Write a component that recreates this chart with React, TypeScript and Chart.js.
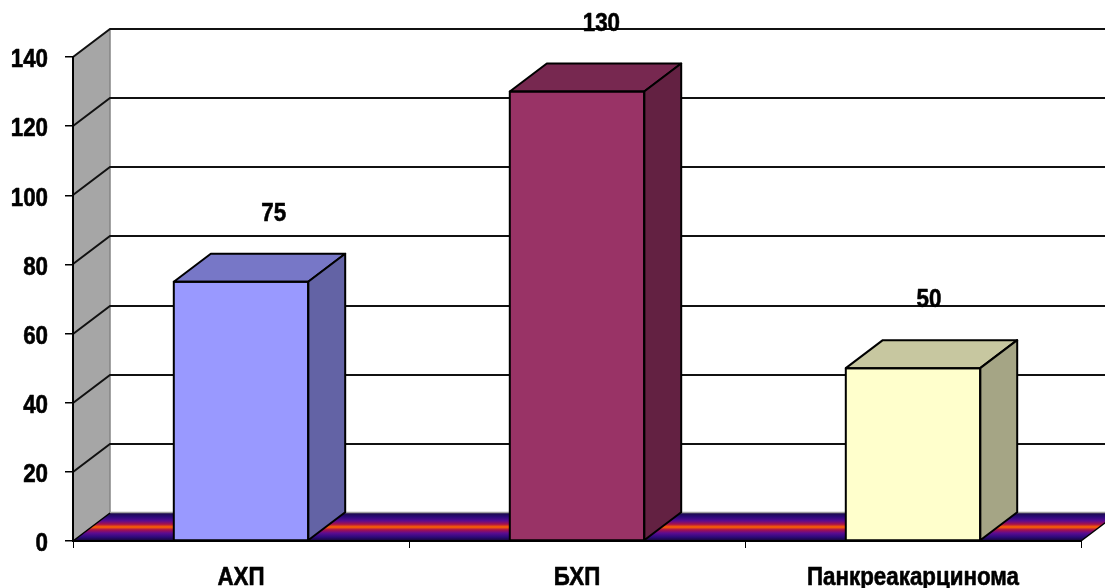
import React, { useEffect, useRef } from "react";
import { Chart, registerables } from "chart.js";

Chart.register(...registerables);

// Chart data
const categories = ["АХП", "БХП", "Панкреакарцинома"];
const values = [75, 130, 50];
const yMin = 0;
const yMax = 140;
const yStep = 20;

// Face colours of each column: front, top, side
const frontColors = ["#9999ff", "#993366", "#ffffcc"];
const topColors = ["#7777c7", "#772850", "#c7c7a0"];
const sideColors = ["#6363a5", "#632142", "#a5a585"];

// Depth of the 3D box (screen offset of the back plane)
const DX = 37;
const DY = -28;

const FONT_FAMILY = '"Liberation Sans", Arial, sans-serif';
const FONT_SIZE = 26;
const NARROW = 0.86; // horizontal squeeze for a narrow bold face

// Draws condensed bold text; y is the visual middle of the capitals
function narrowText(ctx: CanvasRenderingContext2D, text: string, x: number, y: number, align: CanvasTextAlign) {
  ctx.save();
  ctx.font = `bold ${FONT_SIZE}px ${FONT_FAMILY}`;
  ctx.fillStyle = "#000000";
  ctx.strokeStyle = "#000000";
  ctx.lineWidth = 0.6;
  ctx.lineJoin = "round";
  ctx.textAlign = align;
  ctx.textBaseline = "alphabetic";
  ctx.translate(x, y + FONT_SIZE * 0.358);
  ctx.scale(NARROW, 1);
  ctx.fillText(text, 0, 0);
  ctx.strokeText(text, 0, 0);
  ctx.restore();
}

const walls3dPlugin = {
  id: "walls3d",
  beforeDraw(chart: any) {
    const { ctx, chartArea, scales } = chart;
    const y = scales.y;
    const left = chartArea.left;
    const right = chartArea.right;
    const y0 = y.getPixelForValue(yMin);
    const yTop = y.getPixelForValue(yMax);
    const farRight = right + DX + 40;

    ctx.save();
    // back wall
    ctx.fillStyle = "#ffffff";
    ctx.fillRect(left + DX, yTop + DY, farRight - left - DX, y0 - yTop);

    // left side wall
    ctx.beginPath();
    ctx.moveTo(left, y0);
    ctx.lineTo(left, yTop);
    ctx.lineTo(left + DX, yTop + DY);
    ctx.lineTo(left + DX, y0 + DY);
    ctx.closePath();
    ctx.fillStyle = "#a6a6a6";
    ctx.fill();

    // right edge of the side wall
    ctx.strokeStyle = "#858585";
    ctx.lineWidth = 1.5;
    ctx.beginPath();
    ctx.moveTo(left + DX, yTop + DY);
    ctx.lineTo(left + DX, y0 + DY);
    ctx.stroke();

    // gridlines: diagonal across the side wall, then along the back wall
    ctx.strokeStyle = "#111111";
    ctx.lineWidth = 2;
    for (let v = yMin + yStep; v <= yMax; v += yStep) {
      const py = Math.round(y.getPixelForValue(v));
      ctx.beginPath();
      ctx.moveTo(left, py);
      ctx.lineTo(left + DX, py + DY);
      ctx.lineTo(farRight, py + DY);
      ctx.stroke();
    }

    // floor with banded gradient
    const grad = ctx.createLinearGradient(0, y0 + DY, 0, y0);
    grad.addColorStop(0, "#1a0a48");
    grad.addColorStop(0.14, "#2c0a7a");
    grad.addColorStop(0.28, "#5a0c92");
    grad.addColorStop(0.4, "#a8104c");
    grad.addColorStop(0.5, "#ff6400");
    grad.addColorStop(0.6, "#a8104c");
    grad.addColorStop(0.72, "#5a0c92");
    grad.addColorStop(0.86, "#2c0a7a");
    grad.addColorStop(1, "#12062e");
    ctx.beginPath();
    ctx.moveTo(left, y0);
    ctx.lineTo(left + DX, y0 + DY);
    ctx.lineTo(right + DX, y0 + DY);
    ctx.lineTo(right, y0);
    ctx.closePath();
    ctx.fillStyle = grad;
    ctx.fill();

    // back edge of the floor
    ctx.strokeStyle = "#a0a0a0";
    ctx.lineWidth = 1.5;
    ctx.beginPath();
    ctx.moveTo(left + DX, y0 + DY - 0.5);
    ctx.lineTo(farRight, y0 + DY - 0.5);
    ctx.stroke();

    // outlines of the floor ends
    ctx.strokeStyle = "#000000";
    ctx.lineWidth = 1.5;
    ctx.beginPath();
    ctx.moveTo(left, y0);
    ctx.lineTo(left + DX, y0 + DY);
    ctx.moveTo(right, y0);
    ctx.lineTo(right + DX, y0 + DY);
    ctx.stroke();
    ctx.restore();
  },
  afterDatasetsDraw(chart: any) {
    const { ctx, chartArea, scales } = chart;
    const y = scales.y;
    const meta = chart.getDatasetMeta(0);
    ctx.save();
    ctx.lineJoin = "round";
    meta.data.forEach((bar: any, i: number) => {
      const props = bar.getProps(["x", "y", "base", "width"], true);
      const l = props.x - props.width / 2;
      const r = props.x + props.width / 2;
      const t = props.y;
      const b = props.base;
      ctx.lineWidth = 2;
      ctx.strokeStyle = "#000000";
      // top face
      ctx.beginPath();
      ctx.moveTo(l, t);
      ctx.lineTo(l + DX, t + DY);
      ctx.lineTo(r + DX, t + DY);
      ctx.lineTo(r, t);
      ctx.closePath();
      ctx.fillStyle = topColors[i];
      ctx.fill();
      ctx.stroke();
      // side face
      ctx.beginPath();
      ctx.moveTo(r, t);
      ctx.lineTo(r + DX, t + DY);
      ctx.lineTo(r + DX, b + DY);
      ctx.lineTo(r, b);
      ctx.closePath();
      ctx.fillStyle = sideColors[i];
      ctx.fill();
      ctx.stroke();
      // front face outline
      ctx.strokeRect(l, t, r - l, b - t);

      // value label above the column
      const lx = props.x + DX - (props.x - chartArea.left) * 0.025;
      const ly = y.getPixelForValue(values[i]) + DY - 42;
      narrowText(ctx, String(values[i]), lx, ly, "center");
    });
    ctx.restore();
  },
  afterDraw(chart: any) {
    const { ctx, scales } = chart;
    const x = scales.x;
    const y = scales.y;
    // value axis labels
    y.ticks.forEach((tick: any) => {
      narrowText(ctx, String(tick.value), 48, y.getPixelForValue(tick.value) + 1, "right");
    });
    // category labels
    categories.forEach((label, i) => {
      narrowText(ctx, label, x.getPixelForValue(i), 576, "center");
    });
  },
};

export default function App() {
  const canvasRef = useRef<HTMLCanvasElement | null>(null);

  useEffect(() => {
    if (!canvasRef.current) return;
    const chart = new Chart(canvasRef.current, {
      type: "bar",
      data: {
        labels: categories,
        datasets: [
          {
            data: values,
            backgroundColor: frontColors,
            borderWidth: 0,
            barPercentage: 0.4,
            categoryPercentage: 1,
          },
        ],
      },
      options: {
        animation: false,
        responsive: false,
        devicePixelRatio: 1,
        layout: { padding: { top: 57, right: 24, left: 0, bottom: 0 } },
        plugins: {
          legend: { display: false },
          tooltip: { enabled: false },
          title: { display: false },
        },
        scales: {
          x: {
            offset: true,
            afterFit: (scale: any) => {
              scale.height = 47;
            },
            grid: {
              offset: true,
              drawOnChartArea: false,
              drawTicks: true,
              tickLength: 7,
              color: "#000000",
              lineWidth: 1,
            },
            border: { display: true, color: "#000000", width: 2 },
            ticks: { display: false },
          },
          y: {
            min: yMin,
            max: yMax,
            afterFit: (scale: any) => {
              scale.width = 73;
            },
            grid: {
              drawOnChartArea: false,
              drawTicks: true,
              tickLength: 8,
              color: "#000000",
              lineWidth: 1.5,
            },
            border: { display: true, color: "#000000", width: 2 },
            ticks: { display: false, stepSize: yStep },
          },
        },
      },
      plugins: [walls3dPlugin],
    });
    return () => chart.destroy();
  }, []);

  return (
    <div style={{ position: "absolute", left: 0, top: 0, width: 1105, height: 588, background: "#ffffff" }}>
      <canvas ref={canvasRef} width={1105} height={588} style={{ display: "block" }} />
    </div>
  );
}
